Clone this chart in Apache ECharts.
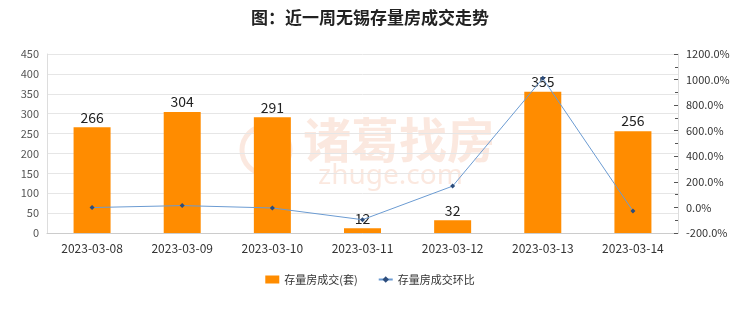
<!DOCTYPE html>
<html>
<head>
<meta charset="utf-8">
<script src="https://cdn.jsdelivr.net/npm/echarts@6/dist/echarts.min.js"></script>
<style>
html, body { margin: 0; padding: 0; background: #fff; }
#main { width: 740px; height: 312px; }
</style>
</head>
<body>
<div id="main"></div>
<script>
var categories = ['2023-03-08', '2023-03-09', '2023-03-10', '2023-03-11', '2023-03-12', '2023-03-13', '2023-03-14'];
var volume = [266, 304, 291, 12, 32, 355, 256];
var ratio = [-1.0, 14.3, -4.3, -95.9, 166.7, 1009.4, -27.9];

var myChart = echarts.init(document.getElementById('main'));
var font = '"Noto Sans CJK SC", "Noto Sans", sans-serif';
var wm = 'rgba(238,150,110,0.22)';

myChart.setOption({
    textStyle: { fontFamily: font },
    title: {
        text: '图：近一周无锡存量房成交走势',
        left: 'center',
        top: 4,
        textStyle: { fontSize: 17, fontWeight: 'bold', color: '#222', fontFamily: font }
    },
    graphic: [{
        type: 'circle',
        shape: { cx: 266, cy: 150, r: 24 },
        style: { fill: 'none', stroke: wm, lineWidth: 5 },
        z: 0
    }, {
        type: 'text',
        left: 303,
        top: 116,
        style: { text: '诸葛找房', fill: wm, font: 'bold 48px "Noto Sans CJK SC"' },
        z: 0
    }, {
        type: 'text',
        left: 318,
        top: 162,
        style: { text: 'zhuge.com', fill: wm, font: '28px "Noto Sans"' },
        z: 0
    }],
    legend: {
        bottom: 22,
        left: 'center',
        itemWidth: 14,
        itemHeight: 8,
        itemGap: 20,
        textStyle: { fontSize: 11, color: '#333' },
        data: [
            { name: '存量房成交(套)', icon: 'rect', itemStyle: { color: '#ff8c00' } },
            { name: '存量房成交环比' }
        ]
    },
    grid: { left: 47, right: 62, top: 54, bottom: 79 },
    xAxis: {
        type: 'category',
        data: categories,
        axisLine: { lineStyle: { color: '#ccc' } },
        axisTick: { show: false },
        axisLabel: { color: '#333', fontSize: 12, margin: 9 }
    },
    yAxis: [{
        type: 'value',
        min: 0,
        max: 450,
        interval: 50,
        axisLine: { show: true, lineStyle: { color: '#ddd' } },
        axisTick: { show: false },
        axisLabel: { color: '#555', fontSize: 11 },
        splitLine: { lineStyle: { color: '#e6e6e6' } }
    }, {
        type: 'value',
        min: -200,
        max: 1200,
        interval: 200,
        axisLine: { show: true, lineStyle: { color: '#ddd' } },
        axisTick: { show: true, inside: true, length: 4, lineStyle: { color: '#555' } },
        minorTick: { show: true, splitNumber: 2, length: 3, lineStyle: { color: '#555' } },
        axisLabel: {
            color: '#333', fontSize: 11,
            formatter: function (v) { return v.toFixed(1) + '%'; }
        },
        splitLine: { show: false }
    }],
    series: [{
        name: '存量房成交(套)',
        type: 'bar',
        data: volume,
        barWidth: 37,
        itemStyle: { color: '#ff8c00' },
        label: { show: true, position: 'top', color: '#222', fontSize: 14, distance: 3 }
    }, {
        name: '存量房成交环比',
        type: 'line',
        yAxisIndex: 1,
        data: ratio,
        symbol: 'diamond',
        symbolSize: 5,
        lineStyle: { color: '#6b9bd2', width: 1 },
        itemStyle: { color: '#2d4d7c' },
        z: 3
    }]
});
</script>
</body>
</html>
